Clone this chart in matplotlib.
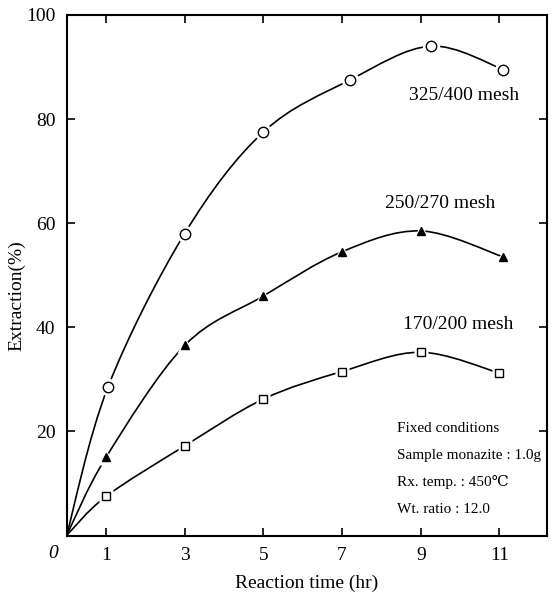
import numpy as np
import matplotlib
matplotlib.use("Agg")
import matplotlib.pyplot as plt
from matplotlib.path import Path
from matplotlib.patches import PathPatch

plt.rcParams['font.family'] = ['Liberation Serif', 'DejaVu Serif']

# Data
t_325 = [1.05, 3.0, 5.0, 7.2, 9.25, 11.1]
y_325 = [28.5, 58.0, 77.5, 87.5, 94.0, 89.5]
t_250 = [1.0, 3.0, 5.0, 7.0, 9.0, 11.1]
y_250 = [15.0, 36.5, 46.0, 54.5, 58.5, 53.5]
t_170 = [1.0, 3.0, 5.0, 7.0, 9.0, 11.0]
y_170 = [7.5, 17.2, 26.2, 31.5, 35.2, 31.2]
origin = (0.0, 0.0)

xticks = [1, 3, 5, 7, 9, 11]
yticks = [20, 40, 60, 80, 100]
labels = ["325/400 mesh", "250/270 mesh", "170/200 mesh"]
conditions = ["Fixed conditions", "Sample monazite : 1.0g",
              "Rx. temp. : 450\u2103", "Wt. ratio : 12.0"]

fig = plt.figure(figsize=(5.55, 5.95), dpi=100)
ax = fig.add_axes([0.12, 0.10, 0.865, 0.875])
ax.set_xlim(0, 12.2)
ax.set_ylim(0, 100)


def smooth_path(xs, ys):
    pts = np.array([origin] + list(zip(xs, ys)), dtype=float)
    n = len(pts)
    verts = [pts[0]]
    codes = [Path.MOVETO]
    for i in range(n - 1):
        p0 = pts[i - 1] if i > 0 else pts[i]
        p1 = pts[i]
        p2 = pts[i + 1]
        p3 = pts[i + 2] if i + 2 < n else pts[i + 1]
        c1 = p1 + (p2 - p0) / 6.0
        c2 = p2 - (p3 - p1) / 6.0
        verts += [c1, c2, p2]
        codes += [Path.CURVE4] * 3
    return Path(verts, codes)


series = [(t_325, y_325, 'o', 'white', 7.5),
          (t_250, y_250, '^', 'black', 6.0),
          (t_170, y_170, 's', 'white', 5.5)]
for xs, ys, mk, fc, ms in series:
    ax.add_patch(PathPatch(smooth_path(xs, ys), facecolor='none',
                           edgecolor='black', lw=1.2, zorder=2))
    ax.plot(xs, ys, ls='none', marker=mk, ms=ms + 5, mfc='white',
            mec='none', zorder=3, clip_on=False)
    ax.plot(xs, ys, ls='none', marker=mk, ms=ms, mfc=fc, mec='black',
            mew=1.0, zorder=4, clip_on=False)

ax.set_xticks(xticks)
ax.set_yticks(yticks)
ax.tick_params(direction='in', length=6, width=1.2, labelsize=14,
               top=True, right=True, pad=8)
for s in ax.spines.values():
    s.set_linewidth(1.5)

ax.text(-0.35, -3.4, "0", ha='center', va='center', fontsize=14,
        style='italic')

ax.set_xlabel("Reaction time (hr)", fontsize=14, labelpad=8)
ax.set_ylabel("Extraction(%)", fontsize=14)
ax.yaxis.set_label_coords(-0.085, 0.46)

ax.text(10.1, 84.6, labels[0], ha='center', va='center', fontsize=14)
ax.text(9.5, 63.8, labels[1], ha='center', va='center', fontsize=14)
ax.text(9.95, 40.6, labels[2], ha='center', va='center', fontsize=14)

y0 = 20.6
for i, line in enumerate(conditions):
    ax.text(8.4, y0 - i * 5.2, line, ha='left', va='center', fontsize=11)

fig.savefig("out.png", dpi=100)
